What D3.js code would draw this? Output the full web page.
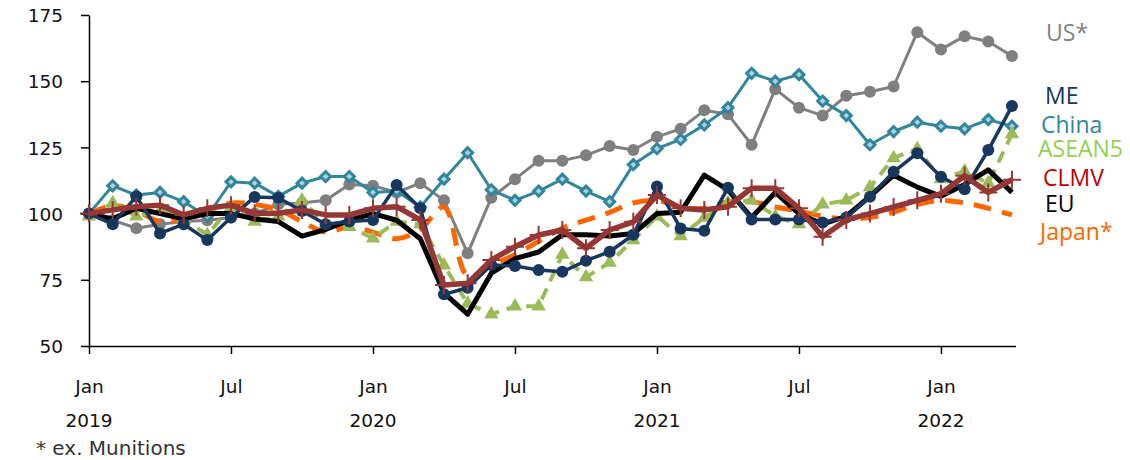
<!DOCTYPE html>
<html>
<head>
<meta charset="utf-8">
<script src="https://cdn.jsdelivr.net/npm/d3@7"></script>
<style>
  body { margin: 0; background: #fff; }
  svg { display: block; }
</style>
</head>
<body>
<div id="chart"></div>
<script>
// monthly index values, Jan 2019 .. Apr 2022 (Jan 2019 = 100)
const months = d3.range(40);
const yearLabels = ["2019", "2020", "2021", "2022"];
const yTicks = [50, 75, 100, 125, 150, 175];

const us = [100, 97.5, 94.5, 96, 97, 97.5, 98.5, 100, 103.5, 104, 105, 111, 110.5, 108, 111.5, 105, 85, 106, 113, 120,
  120, 122, 125.5, 124, 129, 132, 139, 137.5, 126, 147, 140, 137, 144.5, 146, 148, 168.5, 162, 167, 165, 159.5];
const china = [100, 110.5, 107, 108, 104.5, 99, 112, 111.5, 106.5, 111.5, 114, 114, 108, 108.5, 102.5, 113, 123, 109, 105, 108.5,
  113, 108.5, 104.5, 118.5, 124.5, 128, 133.5, 140, 153, 150, 152.5, 142.5, 137, 126, 131, 134.5, 133, 132, 135.5, 133];
const me = [100, 96, 106.5, 92.5, 96, 90, 98.5, 106.3, 106, 101, 96, 97, 97.6, 110.8, 102, 69.5, 72, 80.6, 80.2, 78.7,
  78, 82.2, 85.6, 92, 110.2, 94.4, 93.5, 109.8, 97.8, 97.8, 97.8, 96.6, 98.5, 106.4, 115.8, 122.8, 113.9, 109.2, 124, 140.6];
const asean5 = [99, 104, 99, 101, 98, 92, 102.5, 97, 99, 105, 96, 95, 90.7, 97, 96, 80.5, 66, 62, 65, 65,
  84.5, 76, 81.5, 90, 99, 91.5, 98.5, 104, 105, 99, 96, 103.5, 105, 110, 121, 124.5, 113, 116, 111.5, 130];
const clmv = [100, 101.4, 102.6, 103.2, 99.5, 102, 103.2, 100.1, 100.1, 101.4, 99.5, 99.5, 102, 102.6, 97.6, 73, 73.7, 82.5, 87.5, 91.9,
  93.8, 86.9, 93.8, 96.9, 107, 102, 101.4, 102.6, 109.6, 109.6, 102, 91.3, 97.6, 100, 102.5, 105, 107.5, 114.3, 108, 112.8];
const eu = [100, 98, 102, 100, 98, 100, 100, 98, 97, 91.5, 94, 97.5, 100, 97.5, 90.5, 70, 62, 77.5, 83, 85.5,
  92, 92, 91.5, 92.5, 100, 100.5, 114.5, 109, 98.5, 108, 100, 96, 99, 106.5, 114.5, 110, 106.5, 111, 116.5, 108];
const japan = [100, 103, 101, 97, 98, 101, 104, 103.5, 101.5, 97, 93, 95, 93, 90.5, 94, 102.5, 76.5, 80.5, 84.5, 89.5,
  94.5, 97.5, 100.5, 104, 105, 102.5, 102, 104.5, 104.5, 102.5, 101, 99, 98, 98.5, 100.5, 103.5, 105, 104, 102, 99.5];

const width = 1130, height = 460;

const svg = d3.select("#chart").append("svg")
  .attr("width", width)
  .attr("height", height);

const x = d3.scaleLinear().domain([0, 39.15]).range([89, 1015.5]);
const y = d3.scaleLinear().domain([50, 175]).range([346, 15]);

// axes
const yAxisG = svg.append("g")
  .attr("transform", `translate(${x(0)},0)`)
  .call(d3.axisLeft(y).tickValues(yTicks).tickSize(8).tickSizeOuter(0).tickPadding(18));

const xAxisG = svg.append("g")
  .attr("transform", `translate(0,${y(50)})`)
  .call(d3.axisBottom(x).tickValues(d3.range(0, 40, 6)).tickSize(8).tickSizeOuter(0).tickPadding(26)
    .tickFormat(d => (d % 12 === 0 ? "Jan" : "Jul")));

svg.selectAll(".domain, .tick line").attr("stroke", "#000").attr("stroke-width", 1.5);
svg.selectAll(".tick text")
  .attr("fill", "#111")
  .style("font-family", "DejaVu Sans, sans-serif")
  .style("font-size", "18.5px");
yAxisG.selectAll(".tick text").attr("dy", "0.36em");

svg.append("g").selectAll("text")
  .data(yearLabels)
  .join("text")
  .attr("x", (d, i) => x(i * 12))
  .attr("y", 427)
  .attr("text-anchor", "middle")
  .attr("fill", "#111")
  .style("font-family", "DejaVu Sans, sans-serif")
  .style("font-size", "18.5px")
  .text(d => d);

svg.append("text")
  .attr("x", 36)
  .attr("y", 455)
  .attr("fill", "#333")
  .style("font-family", "DejaVu Sans, sans-serif")
  .style("font-size", "20px")
  .text("* ex. Munitions");

// series
const series = [
  { name: "US*", values: us, color: "#7f7f7f", width: 3, marker: "circle", label: "#808080", ly: 41, lx: 1046 },
  { name: "China", values: china, color: "#31859c", width: 3, marker: "diamond", label: "#31859c", ly: 133, lx: 1041 },
  { name: "Japan*", values: japan, color: "#ff6600", width: 5, dash: "18,11", smooth: true, label: "#ff6600", ly: 240, lx: 1040 },
  { name: "ASEAN5", values: asean5, color: "#9bbb59", width: 4, dash: "12,8", marker: "triangle", label: "#92d050", ly: 157, lx: 1038 },
  { name: "EU", values: eu, color: "#000000", width: 5, label: "#000000", ly: 212, lx: 1045 },
  { name: "ME", values: me, color: "#17375e", width: 3.5, marker: "circle", label: "#17375e", ly: 104, lx: 1045 },
  { name: "CLMV", values: clmv, color: "#953735", width: 5.5, marker: "plus", label: "#c00000", ly: 186, lx: 1043 }
];

const plot = svg.append("g");

series.forEach(s => {
  const line = d3.line()
    .x((d, i) => x(i))
    .y(d => y(d))
    .curve(s.smooth ? d3.curveCatmullRom.alpha(0.5) : d3.curveLinear);

  const g = plot.append("g");
  g.append("path")
    .datum(s.values)
    .attr("fill", "none")
    .attr("stroke", s.color)
    .attr("stroke-width", s.width)
    .attr("stroke-linejoin", "round")
    .attr("stroke-dasharray", s.dash || null)
    .attr("d", line);

  const pts = g.selectAll("g.pt").data(s.values).join("g")
    .attr("transform", (d, i) => `translate(${x(i)},${y(d)})`);

  if (s.marker === "circle") {
    pts.append("circle").attr("r", 6).attr("fill", s.color);
  } else if (s.marker === "diamond") {
    pts.append("path")
      .attr("d", "M0,-5L5,0L0,5L-5,0Z")
      .attr("fill", "#a9d3df")
      .attr("stroke", s.color)
      .attr("stroke-width", 3);
  } else if (s.marker === "triangle") {
    pts.append("path")
      .attr("d", d3.symbol(d3.symbolTriangle, 90))
      .attr("fill", s.color);
  } else if (s.marker === "plus") {
    pts.append("path")
      .attr("d", "M-9,0H9M0,-9V9")
      .attr("stroke", s.color)
      .attr("stroke-width", 2);
  }

  svg.append("text")
    .attr("x", s.lx)
    .attr("y", s.ly)
    .attr("fill", s.label)
    .style("font-family", "Open Sans, sans-serif")
    .style("font-size", "23px")
    .text(s.name);
});
</script>
</body>
</html>
